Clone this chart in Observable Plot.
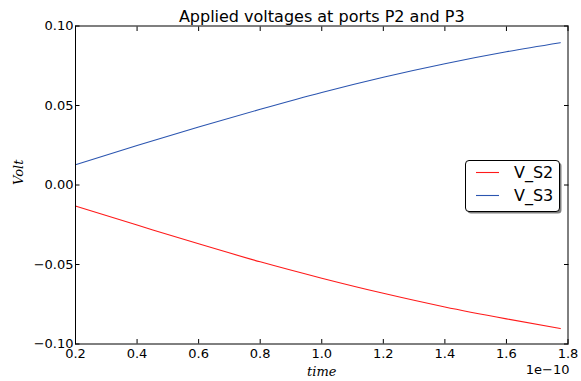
<!DOCTYPE html>
<html>
<head>
<meta charset="utf-8">
<script src="https://cdn.jsdelivr.net/npm/d3@7"></script>
<script src="https://cdn.jsdelivr.net/npm/@observablehq/plot@0.6"></script>
<style>
  body { margin: 0; background: #fff; }
  #chart { width: 581px; height: 381px; }
</style>
</head>
<body>
<div id="chart"></div>
<script>
// ---- data (time in units of 1e-10) ----
const time = [0.2, 0.4, 0.6, 0.8, 1.0, 1.2, 1.4, 1.6, 1.775];
const vS2 = [-0.0133, -0.0252, -0.0370, -0.0483, -0.0586, -0.0681, -0.0767, -0.0842, -0.0903];
const vS3 = [0.0127, 0.0248, 0.0365, 0.0476, 0.0582, 0.0678, 0.0763, 0.0838, 0.0895];
const seriesNames = ["V_S2", "V_S3"];
const seriesColors = ["#ff1a1a", "#2b55b0"];
const xTicks = [0.2, 0.4, 0.6, 0.8, 1.0, 1.2, 1.4, 1.6, 1.8];
const yTicks = [-0.10, -0.05, 0.00, 0.05, 0.10];
const titleText = "Applied voltages at ports P2 and P3";
const xLabel = "time";
const yLabel = "Volt";
const xOffsetText = "1e\u221210";

// ---- layout ----
const W = 581, H = 381;
const mL = 75, mR = 13.5, mT = 25.5, mB = 37.5;
const tickLen = 4.5;

const rows = time.flatMap((t, i) => [
  {t, v: vS2[i], s: seriesNames[0]},
  {t, v: vS3[i], s: seriesNames[1]}
]);

// tick-only axes: ticks point inward (negative size), no labels
const tickOnly = {tickSize: -tickLen, fill: "none", label: null, stroke: "#000", strokeWidth: 1};

const chart = Plot.plot({
  width: W, height: H,
  marginLeft: mL, marginRight: mR, marginTop: mT, marginBottom: mB,
  style: {fontFamily: "DejaVu Sans", fontSize: "13px", color: "#000", background: "#fff"},
  x: {domain: [0.2, 1.8]},
  y: {domain: [-0.1, 0.1]},
  color: {domain: seriesNames, range: seriesColors},
  marks: [
    Plot.lineY(rows, {x: "t", y: "v", stroke: "s", strokeWidth: 1.1, curve: "monotone-x"}),
    Plot.axisX(xTicks, {anchor: "bottom", ...tickOnly}),
    Plot.axisX(xTicks, {anchor: "top", ...tickOnly}),
    Plot.axisY(yTicks, {anchor: "left", ...tickOnly}),
    Plot.axisY(yTicks, {anchor: "right", ...tickOnly}),
    Plot.frame({stroke: "#000", strokeWidth: 1}),
    Plot.axisX(xTicks, {anchor: "bottom", tickSize: 0, tickPadding: 5, tickFormat: d3.format(".1f"), label: null, fontSize: 13}),
    Plot.axisY(yTicks, {anchor: "left", tickSize: 0, tickPadding: 2, tickFormat: d3.format(".2f"), label: null, fontSize: 13}),
    Plot.text([titleText], {frameAnchor: "top", lineAnchor: "middle", dy: -9.6, fontSize: 16, fill: "#000"}),
    Plot.text([xLabel], {frameAnchor: "bottom", lineAnchor: "middle", dy: 28.3, fontSize: 13, fontFamily: "DejaVu Serif", fontStyle: "italic", fill: "#000"}),
    Plot.text([xOffsetText], {frameAnchor: "bottom-right", lineAnchor: "middle", textAnchor: "end", dx: 1.5, dy: 26.3, fontSize: 13, fill: "#000"}),
    Plot.text([yLabel], {frameAnchor: "left", lineAnchor: "middle", rotate: -90, dx: -56.2, fontSize: 13, fontFamily: "DejaVu Serif", fontStyle: "italic", fill: "#000"})
  ]
});
document.getElementById("chart").appendChild(chart);

// ---- legend (inside the plot, right side) ----
const svg = d3.select(chart);
const lg = svg.append("g").attr("class", "legend");
const bx = 465, by = 160, bw = 94, bh = 51;
lg.append("rect").attr("x", bx + 2.5).attr("y", by + 2.5).attr("width", bw).attr("height", bh)
  .attr("rx", 3.5).attr("fill", "#808080");
lg.append("rect").attr("x", bx + 0.5).attr("y", by + 0.5).attr("width", bw).attr("height", bh)
  .attr("rx", 3.5).attr("fill", "#fff").attr("stroke", "#000").attr("stroke-width", 1);
const lineYs = [172, 195];
const textYs = [177.5, 201];
seriesNames.forEach((name, i) => {
  lg.append("line").attr("x1", 476).attr("x2", 499).attr("y1", lineYs[i] + 0.5).attr("y2", lineYs[i] + 0.5)
    .attr("stroke", seriesColors[i]).attr("stroke-width", 1.1);
  lg.append("text").attr("x", 514).attr("y", textYs[i]).attr("font-family", "DejaVu Sans")
    .attr("text-anchor", "start").attr("font-size", 16).attr("fill", "#000").text(name);
});
</script>
</body>
</html>
